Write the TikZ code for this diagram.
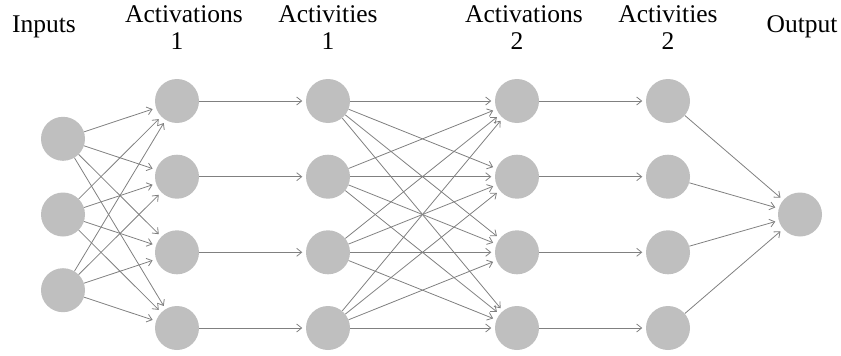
\documentclass[tikz,border=0pt]{standalone}
\usepackage{fontspec}
\setmainfont{Liberation Serif}
\usetikzlibrary{arrows.meta}
\definecolor{nodegray}{RGB}{191,191,191}
\definecolor{linegray}{RGB}{128,128,128}
\tikzset{
  neuron/.style={circle, fill=nodegray, draw=none, minimum size=44pt, inner sep=0pt},
  conn/.style={draw=linegray, line width=0.8pt, -{Straight Barb[length=5pt,width=8pt]}, shorten >=3.5pt},
  lbl/.style={font=\fontsize{25.5}{27}\selectfont, align=center, inner sep=0pt, anchor=base}
}
\begin{document}
\begin{tikzpicture}[x=1pt,y=-1pt]
\useasboundingbox (0,0) rectangle (841,356);
% inputs
\node[neuron] (i1) at (63,138.8) {};
\node[neuron] (i2) at (63,214.5) {};
\node[neuron] (i3) at (63,290.2) {};
% layers of four
\foreach \n/\x in {a/177, b/328, c/517, d/668}{
  \node[neuron] (\n1) at (\x,101) {};
  \node[neuron] (\n2) at (\x,176.7) {};
  \node[neuron] (\n3) at (\x,252.3) {};
  \node[neuron] (\n4) at (\x,328) {};
}
\node[neuron] (o) at (800,214.5) {};
% labels
\node[lbl] (tin) at (44,32.3) {Inputs};
\node[lbl] (ta1) at (184,49.3) {Activations\\1\rule{14pt}{0pt}};
\node[lbl] (tb1) at (328,49.3) {Activities\\1};
\node[lbl] (ta2) at (524,49.3) {Activations\\2\rule{14pt}{0pt}};
\node[lbl] (tb2) at (668,49.3) {Activities\\2};
\node[lbl] (tout) at (802,32.3) {Output};
% connections
\foreach \i in {1,2,3}{
  \foreach \j in {1,2,3,4}{
    \draw[conn] (i\i) -- (a\j);
  }
}
\foreach \j in {1,2,3,4}{
  \draw[conn] (a\j) -- (b\j);
  \draw[conn] (c\j) -- (d\j);
  \draw[conn] (d\j) -- (o);
  \foreach \k in {1,2,3,4}{
    \draw[conn] (b\j) -- (c\k);
  }
}
\end{tikzpicture}
\end{document}
